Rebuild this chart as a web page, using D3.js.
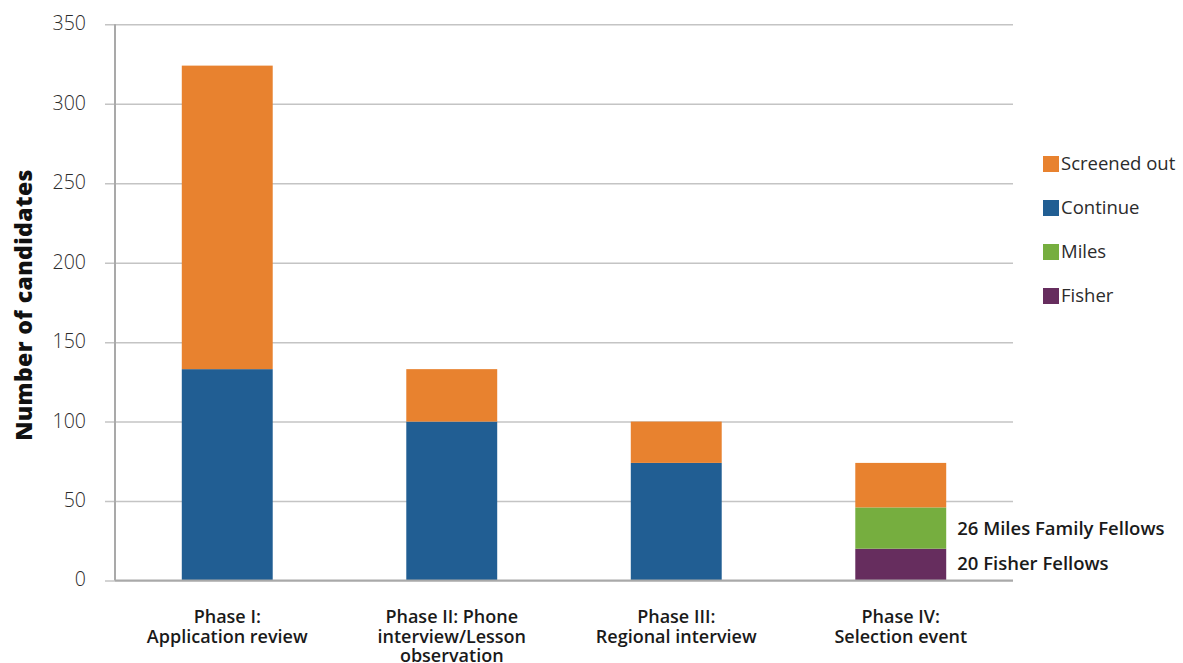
<!DOCTYPE html>
<html>
<head>
<meta charset="utf-8">
<script src="https://cdn.jsdelivr.net/npm/d3@7"></script>
<style>
  html, body { margin: 0; padding: 0; background: #fff; }
  svg { display: block; }
</style>
</head>
<body>
<svg id="chart" width="1183" height="663"></svg>
<script>
// Candidate counts at each phase of the selection process
const phases = ["Phase I:|Application review", "Phase II: Phone|interview/Lesson|observation", "Phase III:|Regional interview", "Phase IV:|Selection event"];
const fisher      = [0, 0, 0, 20];
const miles       = [0, 0, 0, 26];
const continuing  = [133, 100, 74, 0];
const screenedOut = [191, 33, 26, 28];
const yTicks = [0, 50, 100, 150, 200, 250, 300, 350];
const seriesNames = ["Fisher", "Miles", "Continue", "Screened out"];
const legendOrder = ["Screened out", "Continue", "Miles", "Fisher"];
const annotations = ["20 Fisher Fellows", "26 Miles Family Fellows"];

const colors = {
  "Screened out": "#E8822F",
  "Continue": "#215E93",
  "Miles": "#76AE3F",
  "Fisher": "#662D5E"
};

const FONT = "'Open Sans', 'Noto Sans', sans-serif";

const rows = phases.map((p, i) => ({
  phase: p,
  "Fisher": fisher[i],
  "Miles": miles[i],
  "Continue": continuing[i],
  "Screened out": screenedOut[i]
}));

const svg = d3.select("#chart");
const plotLeft = 115, plotRight = 1013, plotTop = 24.3, plotBottom = 580.5;

const x = d3.scaleBand().domain(phases).range([plotLeft, plotRight]).paddingInner(0.595).paddingOuter(0.2975);
const y = d3.scaleLinear().domain([0, 350]).range([plotBottom, plotTop]);

// Horizontal gridlines with tick labels
const yAxis = d3.axisLeft(y).tickValues(yTicks).tickSize(-(plotRight - plotLeft + 10)).tickPadding(19);
const gy = svg.append("g").attr("transform", `translate(${plotLeft - 10},0)`).call(yAxis);
gy.select(".domain").remove();
gy.selectAll(".tick line").attr("stroke", "#c4c4c4").attr("stroke-width", 1.5);
gy.selectAll(".tick text")
  .attr("font-family", FONT)
  .attr("font-weight", 300)
  .attr("font-size", 19.5)
  .attr("fill", "#2b2b2b")
  .attr("dy", "0.28em");

// Stacked bars
const stack = d3.stack().keys(seriesNames)(rows);
svg.append("g").selectAll("g").data(stack).join("g")
  .attr("fill", d => colors[d.key])
  .selectAll("rect").data(d => d.filter(s => s[1] > s[0])).join("rect")
  .attr("x", d => x(d.data.phase))
  .attr("width", x.bandwidth())
  .attr("y", d => y(d[1]))
  .attr("height", d => y(d[0]) - y(d[1]));

// Axis lines
svg.append("line").attr("x1", plotLeft).attr("x2", plotLeft).attr("y1", plotTop).attr("y2", plotBottom)
  .attr("stroke", "#a9a9a9").attr("stroke-width", 2);
svg.append("line").attr("x1", plotLeft).attr("x2", plotRight).attr("y1", plotBottom).attr("y2", plotBottom)
  .attr("stroke", "#a9a9a9").attr("stroke-width", 2);

// Category labels
const xl = svg.append("g");
phases.forEach(p => {
  const cx = x(p) + x.bandwidth() / 2;
  const t = xl.append("text")
    .attr("x", cx)
    .attr("y", 623)
    .attr("text-anchor", "middle")
    .attr("font-family", FONT)
    .attr("font-weight", 600)
    .attr("font-size", 18)
    .attr("fill", "#1a1a1a");
  p.split("|").forEach((line, k) => {
    t.append("tspan").attr("x", cx).attr("dy", k === 0 ? 0 : 19.5).text(line);
  });
});

// Y axis title
svg.append("text")
  .attr("transform", `translate(32,305) rotate(-90)`)
  .attr("text-anchor", "middle")
  .attr("font-family", FONT)
  .attr("font-weight", 800)
  .attr("font-size", 23)
  .attr("letter-spacing", 0.4)
  .attr("fill", "#111")
  .text("Number of candidates");

// Labels beside the fellows segments
const last = phases[3];
const ann = svg.append("g")
  .attr("font-family", FONT)
  .attr("font-weight", 600)
  .attr("font-size", 18.5)
  .attr("fill", "#1a1a1a");
ann.append("text").attr("x", x(last) + x.bandwidth() + 11).attr("y", y(fisher[3] / 2) - 1).attr("dy", "0.35em").text(annotations[0]);
ann.append("text").attr("x", x(last) + x.bandwidth() + 11).attr("y", y(fisher[3] + miles[3] / 2)).attr("dy", "0.35em").text(annotations[1]);

// Legend
const lg = svg.append("g").attr("transform", "translate(1043,156)");
legendOrder.forEach((k, i) => {
  const g = lg.append("g").attr("transform", `translate(0,${i * 44})`);
  g.append("rect").attr("width", 16).attr("height", 16).attr("fill", colors[k]);
  g.append("text").attr("x", 18).attr("y", 8).attr("dy", "0.35em")
    .attr("font-family", FONT)
    .attr("font-weight", 400)
    .attr("font-size", 18.5)
    .attr("fill", "#2b2b2b")
    .text(k);
});
</script>
</body>
</html>
